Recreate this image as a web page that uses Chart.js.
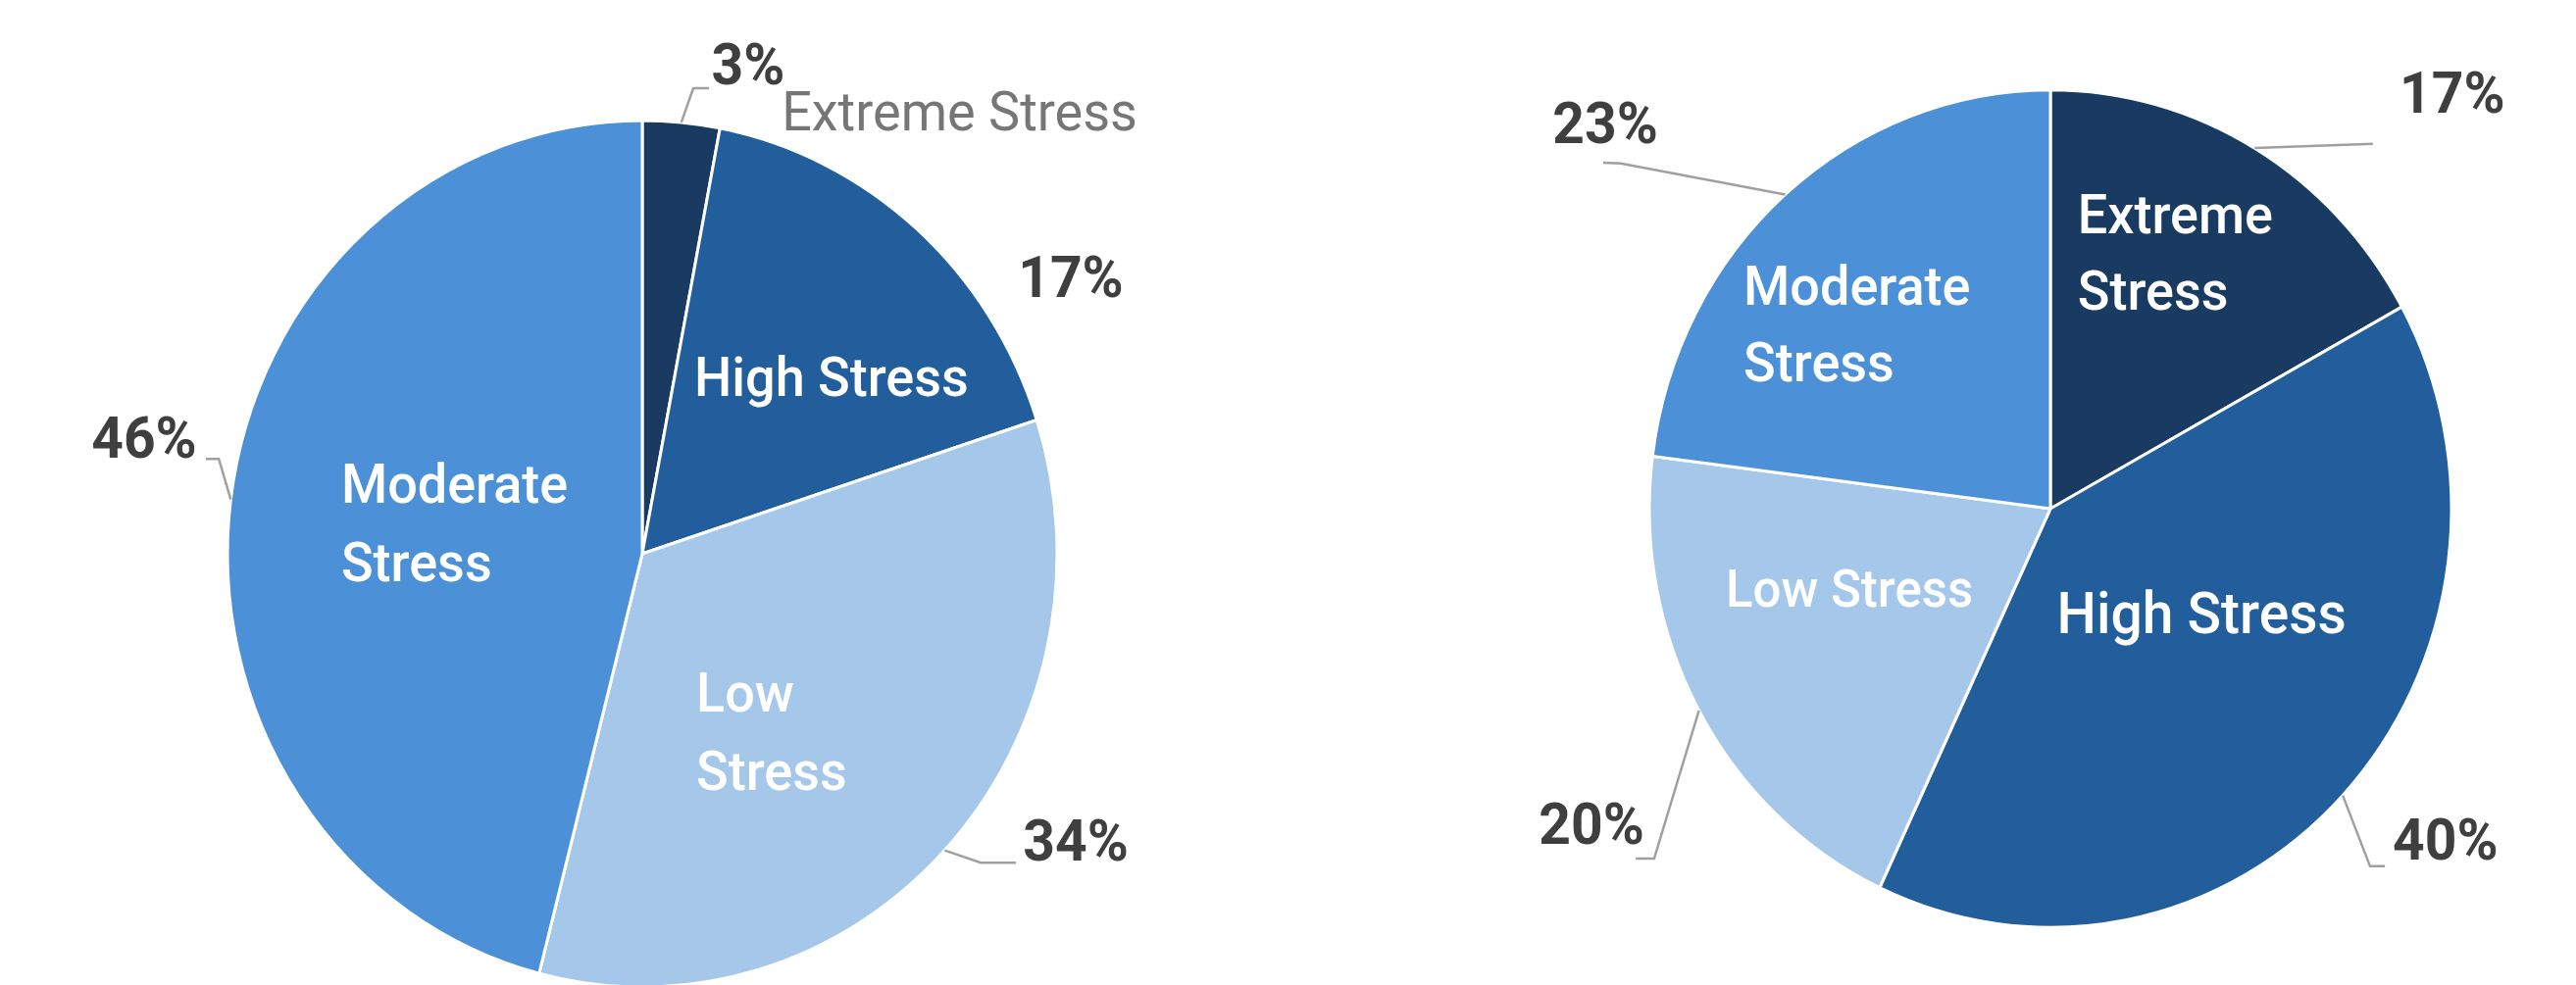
<!DOCTYPE html>
<html>
<head>
  <title>Stress Levels</title>
  <script src="https://cdn.jsdelivr.net/npm/chart.js"></script>
  <style>
    body { margin: 0; background: #fff; }
    .pie { position: absolute; top: 0; height: 1005px; }
  </style>
</head>
<body>
  <div class="pie" style="left:0;width:1313px"><canvas id="leftChart"></canvas></div>
  <div class="pie" style="left:1313px;width:1314px"><canvas id="rightChart"></canvas></div>

  <script>
    // Shares per stress level, in percent
    const categories = ['Extreme Stress', 'High Stress', 'Low Stress', 'Moderate Stress'];
    const leftShares = [3, 17, 34, 46];
    const rightShares = [17, 40, 20, 23];

    const sliceColors = ['#193a61', '#225e9b', '#a5c8ea', '#4c91d7'];
    const squash = 1.045; // pies are drawn a little taller than wide

    // Label placement in units of the pie radius, measured from the pie centre.
    // leader: points the connector runs through after leaving the slice edge.
    const leftSpots = [
      { pct: [0.255, -1.168], name: [0.336, -1.054], align: 'left', color: '#767676', weight: 400, leader: [[0.123, -1.123], [0.161, -1.123]] },
      { pct: [1.033, -0.655], name: [0.456, -0.414], align: 'center' },
      { pct: [1.045, 0.705], name: [0.130, 0.348], align: 'left', wrap: true, leader: [[0.816, 0.745], [0.901, 0.745]] },
      { pct: [-1.201, -0.267], name: [-0.726, -0.156], align: 'left', wrap: true, leader: [[-1.021, -0.229], [-1.052, -0.229]] }
    ];
    const rightSpots = [
      { pct: [1.002, -1.024], name: [0.068, -0.721], align: 'left', wrap: true, leader: [[0.804, -0.910]] },
      { pct: [0.985, 0.839], name: [0.377, 0.274], align: 'center', size: 57, leader: [[0.797, 0.892], [0.834, 0.892]] },
      { pct: [-1.144, 0.800], name: [-0.501, 0.213], align: 'center', size: 51, leader: [[-0.988, 0.873], [-1.034, 0.873]] },
      { pct: [-1.110, -0.949], name: [-0.765, -0.543], align: 'left', wrap: true, leader: [[-1.071, -0.861], [-1.115, -0.863]] }
    ];

    // text is stretched by the same factor as the pies
    function tallText(ctx, text, x, y) {
      ctx.save();
      ctx.translate(x, y);
      ctx.scale(1, squash);
      ctx.fillText(text, 0, 0);
      ctx.restore();
    }

    function pieLabels(spots, lineGap) {
      return {
        id: 'pieLabels',
        beforeDatasetsDraw(chart) {
          const arc = chart.getDatasetMeta(0).data[0];
          const ctx = chart.ctx;
          ctx.save();
          ctx.translate(arc.x, arc.y);
          ctx.scale(1, squash);
          ctx.translate(-arc.x, -arc.y);
        },
        afterDatasetsDraw(chart) {
          const ctx = chart.ctx;
          ctx.restore();
          const values = chart.data.datasets[0].data;
          chart.getDatasetMeta(0).data.forEach((arc, i) => {
            const spot = spots[i];
            const r = arc.outerRadius;
            const px = p => arc.x + p[0] * r;
            const py = p => arc.y + p[1] * r;

            if (spot.leader) {
              const mid = (arc.startAngle + arc.endAngle) / 2;
              ctx.beginPath();
              ctx.moveTo(arc.x + Math.cos(mid) * r, arc.y + Math.sin(mid) * r * squash);
              spot.leader.forEach(p => ctx.lineTo(px(p), py(p)));
              ctx.strokeStyle = '#a0a0a0';
              ctx.lineWidth = 2.5;
              ctx.stroke();
            }

            ctx.textBaseline = 'middle';
            ctx.font = 'bold 57px Roboto';
            ctx.fillStyle = '#3f3f3f';
            ctx.textAlign = 'center';
            tallText(ctx, values[i] + '%', px(spot.pct), py(spot.pct));

            const label = chart.data.labels[i];
            const lines = spot.wrap ? label.split(' ') : [label];
            ctx.font = (spot.weight || 500) + ' ' + (spot.size || 54) + 'px Roboto';
            ctx.fillStyle = spot.color || '#ffffff';
            ctx.textAlign = spot.align;
            lines.forEach((t, k) => tallText(ctx, t, px(spot.name), py(spot.name) + k * lineGap));
          });
        }
      };
    }

    function makePie(id, shares, radius, padding, spots, lineGap) {
      new Chart(document.getElementById(id), {
        type: 'pie',
        data: {
          labels: categories,
          datasets: [{
            data: shares,
            backgroundColor: sliceColors,
            borderColor: '#ffffff',
            borderWidth: 3,
            radius: radius,
            clip: false
          }]
        },
        options: {
          responsive: true,
          maintainAspectRatio: false,
          animation: false,
          layout: { padding: padding },
          plugins: {
            legend: { display: false },
            tooltip: { enabled: false }
          }
        },
        plugins: [pieLabels(spots, lineGap)]
      });
    }

    makePie('leftChart', leftShares, 423, { left: 0, right: 3, top: 125, bottom: 0 }, leftSpots, 80);
    makePie('rightChart', rightShares, 409, { left: 242, right: 0, top: 33, bottom: 0 }, rightSpots, 78);
  </script>
</body>
</html>
